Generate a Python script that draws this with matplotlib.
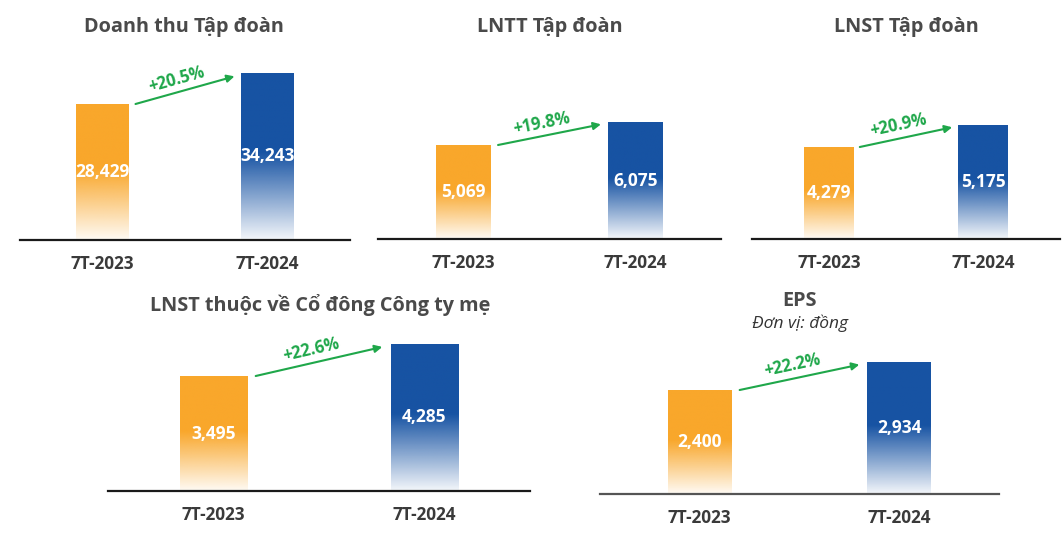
import numpy as np
import matplotlib.pyplot as plt
from matplotlib.colors import to_rgb

plt.rcParams['font.family'] = ['Open Sans', 'DejaVu Sans']

categories = ["7T-2023", "7T-2024"]
titles = ["Doanh thu Tập đoàn", "LNTT Tập đoàn", "LNST Tập đoàn",
          "LNST thuộc về Cổ đông Công ty mẹ", "EPS"]
eps_unit = "Đơn vị: đồng"

revenue = [28429, 34243]
pretax = [5069, 6075]
aftertax = [4279, 5175]
parent_profit = [3495, 4285]
eps = [2400, 2934]
growth = ["+20.5%", "+19.8%", "+20.9%", "+22.6%", "+22.2%"]

series = [revenue, pretax, aftertax, parent_profit, eps]

W, H = 1063, 547
ORANGE = "#F9A72B"
BLUE = "#1753A3"
GREEN = "#1FA74A"
TITLE_C = "#4a4a4a"
TICK_C = "#3a3a3a"

# pixel layout: left, right, baseline, top of tallest bar, y-axis floor, title x, title y
layout = [
    (20, 350, 240, 73, 2922, 184, 27),
    (378, 721, 239, 122, 957, 550, 27),
    (752, 1060, 239, 125, 532, 906, 27),
    (108, 530, 491, 344, 656, 320, 305),
    (600, 999, 494, 362, 417, 800, 301),
]


def gradient(color, n=256):
    rgb = to_rgb(color)
    f = np.linspace(0, 1, n)
    alpha = np.clip(0.05 + 0.95 * f / 0.52, 0, 1)
    img = np.zeros((n, 1, 4))
    img[:, 0, :3] = rgb
    img[:, 0, 3] = alpha
    return img


fig = plt.figure(figsize=(W / 100, H / 100), dpi=100)

for i, vals in enumerate(series):
    l, r, base, top, yb, tx, ty = layout[i]
    ax = fig.add_axes([l / W, 1 - base / H, (r - l) / W, (base - top) / H])
    x = np.arange(len(categories))
    bars = ax.bar(x, vals, width=0.32, color="none", edgecolor="none")
    for bar, c in zip(bars, [ORANGE, BLUE]):
        x0 = bar.get_x()
        x1 = x0 + bar.get_width()
        im = ax.imshow(gradient(c), extent=(x0, x1, yb, bar.get_height()),
                       origin="lower", aspect="auto", interpolation="bilinear")
        im.set_clip_path(bar)
    ax.set_xlim(-0.5, 1.5)
    ax.set_ylim(yb, vals[1])

    for s in ["top", "left", "right"]:
        ax.spines[s].set_visible(False)
    ax.spines["bottom"].set_linewidth(1.6)
    ax.spines["bottom"].set_color("#555555" if i == 4 else "#1a1a1a")
    ax.set_yticks([])
    ax.set_xticks(x, categories)
    ax.tick_params(axis="x", length=0, pad=11, labelsize=12.3, labelcolor=TICK_C)
    for lbl in ax.get_xticklabels():
        lbl.set_fontweight("bold")

    for xi, v in zip(x, vals):
        ax.text(xi, (yb + v) / 2, f"{v:,}", ha="center", va="center",
                color="white", fontsize=12.5, fontweight="bold")

    # growth arrow
    p_start = (0.20, vals[0])
    p_end = (0.80, vals[1] - 0.02 * (vals[1] - yb))
    ax.annotate("", xy=p_end, xytext=p_start, annotation_clip=False,
                arrowprops=dict(arrowstyle="-|>", color=GREEN, lw=1.5,
                                mutation_scale=11, shrinkA=0, shrinkB=0))
    d0 = ax.transData.transform(p_start)
    d1 = ax.transData.transform(p_end)
    ang = np.arctan2(d1[1] - d0[1], d1[0] - d0[0])
    mid = ((p_start[0] + p_end[0]) / 2, (p_start[1] + p_end[1]) / 2)
    off = (-13 * np.sin(ang) - 5 * np.cos(ang), 13 * np.cos(ang) - 5 * np.sin(ang))
    ax.annotate(growth[i], xy=mid, xytext=off, textcoords="offset pixels",
                ha="center", va="center", rotation=np.degrees(ang),
                rotation_mode="anchor", color=GREEN, fontsize=12,
                fontweight="bold", annotation_clip=False)

    fig.text(tx / W, 1 - ty / H, titles[i], ha="center", va="center",
             fontsize=14.3, fontweight="bold", color=TITLE_C)

fig.text(800 / W, 1 - 323 / H, eps_unit, ha="center", va="center",
         fontsize=12.5, style="italic", color="#333333")

fig.savefig("out.png", dpi=100)
